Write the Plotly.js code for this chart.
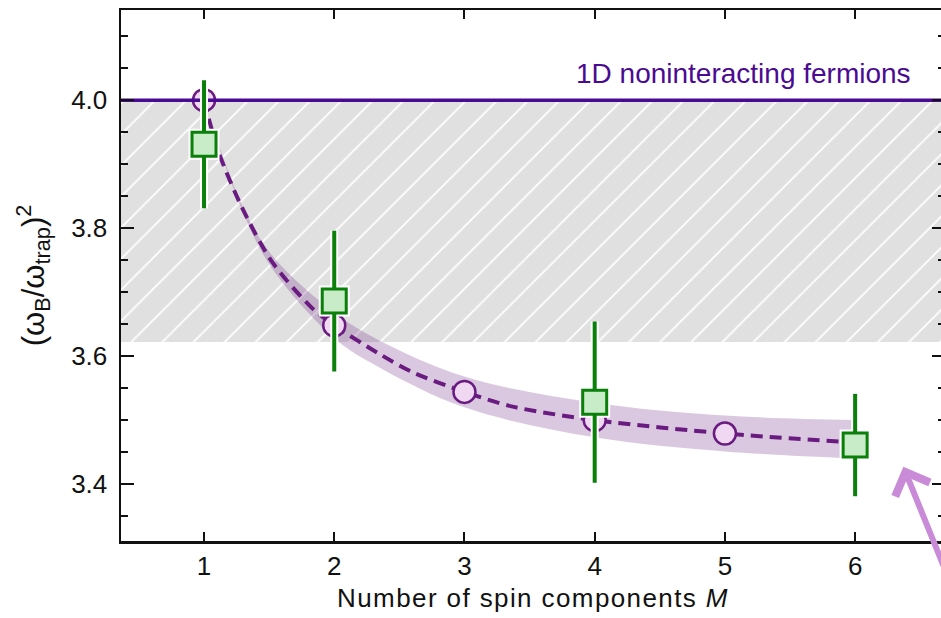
<!DOCTYPE html>
<html>
<head>
<meta charset="utf-8">
<script src="https://cdn.plot.ly/plotly-3.0.1.min.js"></script>
<style>
  html, body { margin: 0; padding: 0; overflow: hidden; background: #fff; }
  #chart { width: 950px; height: 618px; }
  .xtitle { letter-spacing: 1.4px; }
</style>
</head>
<body>
<div id="chart"></div>
<script>
// ---- data ----
const xRange = [0.3625, 6.69];
const yRange = [3.311, 4.141];
const xTicks = [1, 2, 3, 4, 5, 6];
const yTicks = [3.4, 3.6, 3.8, 4.0];

// theory curve (dashed)
const theoryM = [1, 1.11, 1.29, 1.52, 1.83, 2, 2.35, 2.6, 3, 3.37, 4, 5, 6];
const theoryY = [4.0, 3.920, 3.833, 3.748, 3.675, 3.648, 3.603, 3.575, 3.544, 3.521, 3.500, 3.479, 3.465];

// uncertainty band around the theory curve
const bandM = [1, 1.29, 1.52, 2, 2.35, 3, 4, 5, 6];
const bandUpper = [4.0, 3.837, 3.758, 3.668, 3.624, 3.568, 3.527, 3.507, 3.500];
const bandLower = [4.0, 3.829, 3.738, 3.628, 3.582, 3.520, 3.473, 3.451, 3.440];

// open circles on the theory curve
const circleM = [1, 2, 3, 4, 5];
const circleY = [4.0, 3.648, 3.544, 3.500, 3.479];

// experiment (green squares)
const expM = [1, 2, 4, 6];
const expY = [3.931, 3.686, 3.528, 3.461];
const expErr = [0.100, 0.110, 0.126, 0.080];

// noninteracting limit and shaded region
const freeLimit = 4.0;
const shadedLower = 3.622;
const freeLabel = '1D noninteracting fermions';

// arrow annotation tip
const arrowTip = { x: 6.37, y: 3.427 };

const purple = '#6a1b80';
const indigo = '#4b0a92';
const green = '#0a7f0a';
const font = 'Arial, "Liberation Sans", Helvetica, sans-serif';

const traces = [
  // hatched shaded region
  {
    x: [xRange[0], xRange[1], xRange[1], xRange[0], xRange[0]],
    y: [shadedLower, shadedLower, freeLimit, freeLimit, shadedLower],
    mode: 'lines', fill: 'toself', line: { width: 0, color: 'rgba(0,0,0,0)' },
    fillcolor: '#e0e0e0',
    fillpattern: { shape: '/', bgcolor: '#e0e0e0', fgcolor: '#ffffff', size: 22, solidity: 0.08 },
    hoverinfo: 'skip', showlegend: false
  },
  // band lower
  {
    x: bandM, y: bandLower, mode: 'lines',
    line: { width: 0, shape: 'spline', smoothing: 1, color: 'rgba(0,0,0,0)' },
    showlegend: false, hoverinfo: 'skip'
  },
  // band upper
  {
    x: bandM, y: bandUpper, mode: 'lines', fill: 'tonexty',
    fillcolor: 'rgba(120,50,140,0.27)',
    line: { width: 0, shape: 'spline', smoothing: 1, color: 'rgba(0,0,0,0)' },
    showlegend: false, hoverinfo: 'skip'
  },
  // dashed theory curve
  {
    x: theoryM, y: theoryY, mode: 'lines',
    line: { color: purple, width: 4, dash: '12px,7px', shape: 'spline', smoothing: 0.8 },
    showlegend: false
  },
  // circles
  {
    x: circleM, y: circleY, mode: 'markers',
    marker: { symbol: 'circle', size: 22, color: '#f0d8f3', line: { color: purple, width: 2.5 } },
    showlegend: false
  },
  // noninteracting line
  {
    x: [xRange[0], xRange[1]], y: [freeLimit, freeLimit], mode: 'lines',
    line: { color: indigo, width: 3.5 }, showlegend: false
  },
  // white halo under experimental points
  {
    x: expM, y: expY, mode: 'markers',
    marker: { symbol: 'square', size: 28, color: '#ffffff', line: { color: '#ffffff', width: 3 } },
    error_y: { type: 'data', array: expErr, visible: true, color: '#ffffff', thickness: 8, width: 0 },
    showlegend: false, hoverinfo: 'skip'
  },
  // experimental points
  {
    x: expM, y: expY, mode: 'markers',
    marker: { symbol: 'square', size: 24, color: '#c8ebc8', line: { color: green, width: 3 } },
    error_y: { type: 'data', array: expErr, visible: true, color: green, thickness: 4, width: 0 },
    showlegend: false
  }
];

const layout = {
  width: 950, height: 618,
  margin: { l: 121, r: 5, t: 10, b: 77, pad: 0 },
  paper_bgcolor: '#ffffff', plot_bgcolor: '#ffffff',
  font: { family: font, color: '#111111', size: 26 },
  xaxis: {
    range: xRange, tickvals: xTicks, ticktext: xTicks.map(String),
    ticks: 'inside', ticklen: 9, tickwidth: 2, tickcolor: '#111',
    showline: true, linewidth: 2.5, linecolor: '#111', mirror: 'ticks',
    showgrid: false, zeroline: false,
    tickfont: { size: 26, family: font, color: '#111' },
    ticklabelstandoff: 0,
    title: { text: 'Number of spin components <i>M</i>', font: { size: 26, family: font, color: '#111' }, standoff: 9 }
  },
  yaxis: {
    range: yRange, tickvals: yTicks, ticktext: yTicks.map(v => v.toFixed(1)),
    ticks: 'inside', ticklen: 13, tickwidth: 2, tickcolor: '#111',
    minor: { dtick: 0.05, tick0: 3.4, ticks: 'inside', ticklen: 7, tickwidth: 2, tickcolor: '#111', showgrid: false },
    showline: true, linewidth: 2.5, linecolor: '#111', mirror: 'ticks',
    showgrid: false, zeroline: false,
    tickfont: { size: 26, family: font, color: '#111' },
    ticklabelstandoff: 6,
    title: { text: '(ω<sub>B</sub>/ω<sub>trap</sub>)<sup>2</sup>', font: { size: 31, family: font, color: '#111' }, standoff: 18 }
  },
  annotations: [
    {
      x: 6.447, y: 4.042, xref: 'x', yref: 'y', text: freeLabel, showarrow: false,
      xanchor: 'right', yanchor: 'middle',
      font: { size: 28, family: font, color: indigo }
    },
    {
      x: arrowTip.x, y: arrowTip.y, xref: 'x', yref: 'y', text: '',
      showarrow: true, arrowhead: 4, arrowsize: 1.2, arrowwidth: 6, arrowcolor: '#c98ad8',
      ax: 60, ay: 115, standoff: 0
    }
  ]
};

Plotly.newPlot('chart', traces, layout, { displayModeBar: false, staticPlot: true });
</script>
</body>
</html>
